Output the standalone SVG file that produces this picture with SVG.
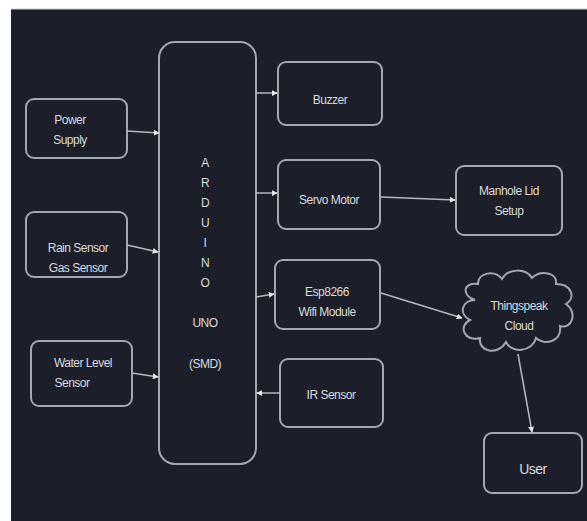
<svg xmlns="http://www.w3.org/2000/svg" width="587" height="521" viewBox="0 0 587 521">
<defs>
<style>
.box{fill:none;stroke:#a3a7ae;stroke-width:2}
.t{font-family:"Liberation Sans",Arial,sans-serif;font-size:12px;fill:#d9dadc;text-anchor:middle;letter-spacing:-0.5px}
.ln{stroke:#b4b7bd;stroke-width:1.5;fill:none;marker-end:url(#ah)}
</style>
<marker id="ah" viewBox="0 0 8 8" refX="7" refY="4" markerWidth="6" markerHeight="6" orient="auto" markerUnits="userSpaceOnUse">
<path d="M0,0 L8,4 L0,8 Z" fill="#e6e7ea"/>
</marker>
</defs>
<rect x="0" y="0" width="587" height="521" fill="#ffffff"/>
<rect x="11" y="9" width="576" height="512" fill="#1c1f2a"/>
<line x1="11" y1="9" x2="587" y2="9" stroke="#c8c8c8" stroke-width="1"/>

<g id="arduino">
<rect class="box" x="159" y="42" width="97" height="422" rx="16"/>
<text class="t" x="205" y="167">A</text>
<text class="t" x="205" y="187">R</text>
<text class="t" x="205" y="207">D</text>
<text class="t" x="205" y="227">U</text>
<text class="t" x="205" y="247">I</text>
<text class="t" x="205" y="267">N</text>
<text class="t" x="205" y="287">O</text>
<text class="t" x="205" y="327">UNO</text>
<text class="t" x="205" y="368">(SMD)</text>
</g>
<g id="power">
<rect class="box" x="26" y="99" width="101" height="59" rx="8"/>
<text class="t" x="70" y="124">Power</text>
<text class="t" x="70" y="144">Supply</text>
</g>
<g id="rain">
<rect class="box" x="26" y="212" width="101" height="65" rx="8"/>
<text class="t" x="78" y="252">Rain Sensor</text>
<text class="t" x="78" y="272">Gas Sensor</text>
</g>
<g id="water">
<rect class="box" x="31" y="341" width="101" height="65" rx="8"/>
<text class="t" x="83" y="367">Water Level</text>
<text class="t" x="72" y="387">Sensor</text>
</g>
<g id="buzzer">
<rect class="box" x="278" y="62" width="104" height="63" rx="8"/>
<text class="t" x="330" y="104">Buzzer</text>
</g>
<g id="servo">
<rect class="box" x="278" y="160" width="102" height="69" rx="8"/>
<text class="t" x="329" y="204">Servo Motor</text>
</g>
<g id="manhole">
<rect class="box" x="456" y="166" width="106" height="69" rx="8"/>
<text class="t" x="509" y="195">Manhole Lid</text>
<text class="t" x="509" y="215">Setup</text>
</g>
<g id="esp">
<rect class="box" x="275" y="260" width="105" height="69" rx="8"/>
<text class="t" x="327" y="296">Esp8266</text>
<text class="t" x="327" y="316">Wifi Module</text>
</g>
<g id="ir">
<rect class="box" x="280" y="359" width="103" height="68" rx="8"/>
<text class="t" x="331" y="399">IR Sensor</text>
</g>
<g id="cloud">
<path class="box" d="M475,300 C462,296 462,282 478,284 C478,272 495,270 502,279 C508,268 526,268 532,278 C540,270 558,272 556,284 C572,284 576,298 566,304 C578,312 572,330 560,326 C562,342 544,346 536,338 C532,352 512,354 506,342 C498,356 478,352 480,338 C464,342 458,326 470,320 C458,314 462,300 475,300 Z"/>
<text class="t" x="519" y="310">Thingspeak</text>
<text class="t" x="519" y="330">Cloud</text>
</g>
<g id="user">
<rect class="box" x="484" y="433" width="98" height="60" rx="8"/>
<text class="t" x="533" y="474" style="font-size:14px">User</text>
</g>

<g id="connectors">
<line class="ln" x1="127" y1="131" x2="159" y2="133"/>
<line class="ln" x1="127" y1="245" x2="158" y2="252"/>
<line class="ln" x1="132" y1="373" x2="158" y2="377"/>
<line class="ln" x1="256" y1="93" x2="277" y2="93"/>
<line class="ln" x1="256" y1="193" x2="277" y2="193"/>
<line class="ln" x1="256" y1="297" x2="274" y2="294"/>
<line class="ln" x1="280" y1="393" x2="257" y2="393"/>
<line class="ln" x1="381" y1="197" x2="455" y2="200"/>
<line class="ln" x1="381" y1="293" x2="462" y2="318"/>
<line class="ln" x1="518" y1="354" x2="532" y2="432"/>
</g>
</svg>
